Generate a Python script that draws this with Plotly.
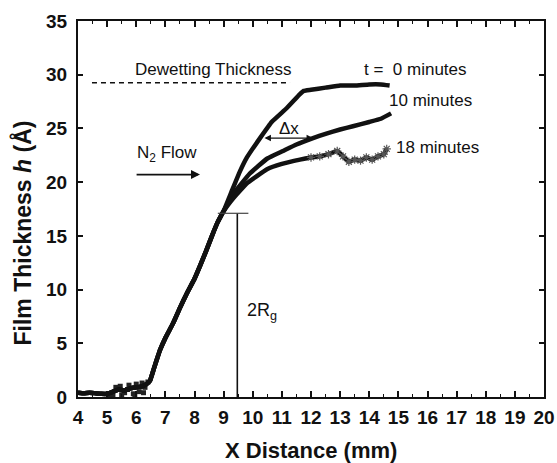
import plotly.graph_objects as go

# ---- data ----
base_x = [4.0, 4.2, 4.4, 4.6, 4.8, 5.0, 5.2, 5.4, 5.6, 5.8, 6.0, 6.2, 6.35]
base_y = [0.4, 0.35, 0.4, 0.35, 0.3, 0.3, 0.5, 0.7, 0.6, 0.8, 0.9, 1.0, 1.2]

# scattered points in the noisy baseline region
blob_x = [5.3, 5.45, 5.6, 5.75, 5.9, 6.0, 6.1, 6.2, 6.3, 5.5, 5.7, 5.95, 6.25, 6.4, 5.2, 5.05]
blob_y = [0.9, 1.0, 0.4, 1.1, 0.3, 1.2, 0.5, 1.3, 0.9, 0.2, 0.7, 0.1, 0.4, 1.4, 0.2, 0.1]

rise_x = [6.47, 6.6, 6.82, 7.0, 7.27, 7.5, 7.73, 8.0, 8.19, 8.4, 8.6, 8.8, 9.0]
rise_y = [1.5, 2.6, 4.4, 5.5, 6.9, 8.3, 9.6, 11.0, 12.2, 13.6, 15.0, 16.3, 17.3]

t0_x = [9.3, 9.56, 9.8, 10.25, 10.65, 11.17, 11.62, 11.75, 12.0, 12.5, 13.0, 13.5, 14.0, 14.4, 14.7]
t0_y = [19.3, 21.0, 22.3, 24.1, 25.6, 26.9, 28.2, 28.5, 28.6, 28.8, 29.0, 29.0, 29.1, 29.1, 29.0]

t10_x = [9.33, 9.9, 10.5, 11.04, 11.5, 12.07, 12.5, 13.0, 13.44, 14.0, 14.4, 14.75]
t10_y = [18.9, 20.8, 22.2, 22.9, 23.5, 24.1, 24.5, 24.9, 25.2, 25.6, 25.9, 26.4]

t18_x = [9.33, 9.8, 10.49, 11.0, 11.62, 12.0, 12.3, 12.6, 12.9, 13.1, 13.3, 13.5,
         13.7, 13.9, 14.1, 14.3, 14.5, 14.6]
t18_y = [18.5, 19.9, 21.2, 21.7, 22.1, 22.3, 22.4, 22.6, 22.9, 22.4, 21.9, 22.1,
         22.0, 22.3, 22.1, 22.4, 22.6, 23.1]

series_names = ["t = 0 minutes", "10 minutes", "18 minutes"]

FONT = "Liberation Sans, Arial, Helvetica, sans-serif"
INK = "#111111"

fig = go.Figure()

shared_x = base_x + rise_x
shared_y = base_y + rise_y

fig.add_trace(go.Scatter(
    x=blob_x, y=blob_y, mode="markers", showlegend=False,
    marker=dict(size=5, symbol="square", color="#222222"),
))

for name, xs, ys in [(series_names[0], t0_x, t0_y), (series_names[1], t10_x, t10_y)]:
    fig.add_trace(go.Scatter(
        x=shared_x + xs, y=shared_y + ys, mode="lines", name=name,
        line=dict(color=INK, width=4.5, shape="spline", smoothing=0.3),
        showlegend=False,
    ))

x18 = shared_x + t18_x
y18 = shared_y + t18_y
fig.add_trace(go.Scatter(
    x=x18, y=y18, mode="lines", name=series_names[2],
    line=dict(color=INK, width=4.5, shape="spline", smoothing=0.3),
    showlegend=False,
))
tail = [i for i, v in enumerate(x18) if v >= 12.0]
fig.add_trace(go.Scatter(
    x=[x18[i] for i in tail], y=[y18[i] for i in tail], mode="markers", showlegend=False,
    marker=dict(size=7, symbol="asterisk-open", color="#555555", line=dict(width=1.2, color="#555555")),
))

shapes = [
    dict(type="line", xref="x", yref="y", x0=4.48, x1=11.28, y0=29.25, y1=29.25,
         line=dict(color=INK, width=1.5, dash="5px,4px")),
    dict(type="line", xref="x", yref="y", x0=9.47, x1=9.47, y0=0, y1=17.1,
         line=dict(color=INK, width=1.6)),
    dict(type="line", xref="x", yref="y", x0=8.8, x1=9.85, y0=17.1, y1=17.1,
         line=dict(color="#444444", width=1.2)),
]

txt = dict(size=17, color=INK, family=FONT)
annotations = [
    dict(x=5.9, y=30.5, text="Dewetting Thickness", showarrow=False, xanchor="left", yanchor="middle", font=txt),
    dict(x=13.75, y=30.5, text="t = \u00a00 minutes", showarrow=False, xanchor="left", yanchor="middle", font=txt),
    dict(x=14.6, y=27.6, text="10 minutes", showarrow=False, xanchor="left", yanchor="middle", font=txt),
    dict(x=14.85, y=23.2, text="18 minutes", showarrow=False, xanchor="left", yanchor="middle", font=txt),
    dict(x=5.96, y=22.65, text="N<sub>2</sub> Flow", showarrow=False, xanchor="left", yanchor="middle", font=txt),
    dict(x=11.23, y=25.0, text="\u0394x", showarrow=False, xanchor="center", yanchor="middle", font=txt),
    dict(x=9.75, y=8.0, text="2R<sub>g</sub>", showarrow=False, xanchor="left", yanchor="middle",
         font=dict(size=18, color=INK, family=FONT)),
    dict(x=8.19, y=20.7, ax=5.96, ay=20.7, xref="x", yref="y", axref="x", ayref="y", text="",
         showarrow=True, arrowhead=2, arrowsize=1, arrowwidth=1.8, arrowcolor=INK),
    dict(x=12.07, y=24.1, ax=10.35, ay=24.1, xref="x", yref="y", axref="x", ayref="y", text="",
         showarrow=True, arrowhead=2, startarrowhead=2, arrowside="end+start", arrowsize=1,
         arrowwidth=1.3, arrowcolor=INK),
    dict(x=0.499, y=-0.142, xref="paper", yref="paper", text="<b>X Distance (mm)</b>", showarrow=False,
         xanchor="center", yanchor="middle", font=dict(size=22, color=INK, family=FONT)),
    dict(x=-0.12, y=0.435, xref="paper", yref="paper", text="<b>Film Thickness <i>h</i> (\u00c5)</b>",
         showarrow=False, textangle=-90, xanchor="center", yanchor="middle",
         font=dict(size=23, color=INK, family=FONT)),
]

fig.update_layout(
    width=557, height=463,
    margin=dict(l=78, r=13, t=21, b=66, autoexpand=False),
    paper_bgcolor="white", plot_bgcolor="white",
    shapes=shapes, annotations=annotations,
    font=dict(family=FONT, color=INK),
)
tickfont = dict(size=19, color=INK, family=FONT, weight="bold")
fig.update_xaxes(
    range=[4, 20], dtick=1, tick0=4, ticks="inside", ticklen=6, tickwidth=1.5, tickcolor=INK,
    minor=dict(dtick=0.5, ticks="inside", ticklen=3, tickwidth=1.2, tickcolor=INK),
    showline=True, linewidth=2, linecolor=INK, mirror="ticks", automargin=False,
    showgrid=False, zeroline=False, tickfont=tickfont, ticklabelstandoff=2,
)
fig.update_yaxes(
    range=[0, 35], dtick=5, tick0=0, ticks="inside", ticklen=5, tickwidth=1.5, tickcolor=INK,
    showline=True, linewidth=2, linecolor=INK, mirror="ticks", automargin=False,
    showgrid=False, zeroline=False, tickfont=tickfont, ticklabelstandoff=5,
)

fig.write_html(
    "out.html",
    config={"displayModeBar": False},
    post_script="document.body.style.margin='0';document.body.style.padding='0';document.body.style.overflow='hidden';",
)
